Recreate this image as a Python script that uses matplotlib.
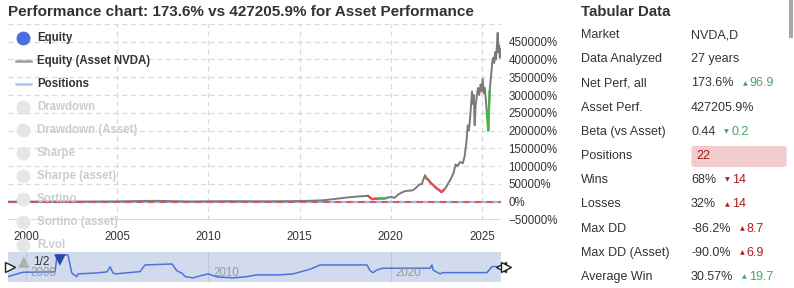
import numpy as np
import matplotlib.pyplot as plt
from matplotlib.patches import FancyBboxPatch, Rectangle

plt.rcParams['font.family'] = ['Liberation Sans', 'DejaVu Sans']

W, H = 794, 288

# asset equity (NVDA buy & hold), percent
asset_years = [1999.0, 2001.0, 2003.0, 2005.0, 2007.0, 2009.0, 2011.0, 2013.0, 2014.5, 2015.5,
               2016.3, 2016.8, 2017.3, 2017.8, 2018.3, 2018.75, 2018.9, 2019.0, 2019.15, 2019.3,
               2019.45, 2019.6, 2019.8, 2020.0, 2020.2, 2020.4, 2020.6, 2020.8, 2021.0, 2021.2,
               2021.4, 2021.55, 2021.7, 2021.88, 2021.95, 2022.05, 2022.2, 2022.35, 2022.5, 2022.65,
               2022.78, 2022.9, 2023.0, 2023.15, 2023.3, 2023.45, 2023.55, 2023.65, 2023.8, 2023.95,
               2024.05, 2024.15, 2024.22, 2024.28, 2024.33, 2024.4, 2024.45, 2024.5, 2024.55, 2024.6,
               2024.65, 2024.7, 2024.78, 2024.85, 2024.92, 2024.98, 2025.04, 2025.1, 2025.16, 2025.22,
               2025.27, 2025.31, 2025.34, 2025.38, 2025.42, 2025.47, 2025.52, 2025.57, 2025.62, 2025.67,
               2025.72, 2025.77, 2025.82, 2025.86, 2025.9, 2025.94, 2025.98, 2026.02, 2026.06]
asset_perf = [0, 400, 300, 800, 2500, 700, 1500, 1100, 1500, 2500,
              4000, 7000, 10000, 13000, 15000, 16500, 10000, 7000, 9000, 8000,
              9500, 8500, 11000, 14000, 11000, 20000, 26000, 30000, 31000, 32000,
              40000, 48000, 50000, 75000, 66000, 62000, 52000, 46000, 38000, 33000,
              27000, 33000, 38000, 52000, 65000, 82000, 105000, 100000, 112000, 108000,
              128000, 170000, 215000, 200000, 225000, 270000, 310000, 275000, 300000, 215000,
              270000, 290000, 320000, 300000, 330000, 310000, 345000, 305000, 320000, 280000,
              250000, 230000, 200000, 260000, 310000, 340000, 365000, 395000, 405000, 390000,
              420000, 400000, 440000, 475000, 420000, 440000, 405000, 430000, 427000]

# trades shown on the asset curve: (start, end, won)
trade_start = [2018.75, 2019.3, 2021.95, 2025.27]
trade_end = [2019.3, 2019.8, 2022.9, 2025.42]
trade_won = [False, True, False, True]

# strategy equity shown in the navigator, percent
nav_years = [1999.01, 1999.84, 2001.59, 2001.70, 2002.30, 2002.51, 2002.78, 2002.85, 2003.89, 2004.44,
             2004.61, 2004.77, 2004.88, 2006.25, 2006.52, 2007.51, 2008.0, 2008.28, 2008.55, 2008.72,
             2009.16, 2009.54, 2009.98, 2010.47, 2011.35, 2012.12, 2012.66, 2013.93, 2014.64, 2015.57,
             2016.12, 2018.70, 2018.86, 2019.02, 2019.24, 2019.57, 2022.15, 2022.26, 2022.31, 2022.70,
             2022.86, 2025.27, 2025.55, 2025.82, 2026.06]
nav_equity = [0, 76, 82, 377, 377, 59, 0, 47, 64, 82,
              168, 64, 47, 87, 203, 215, 220, 99, 59, 0,
              -23, 12, 47, -5, -23, 0, 30, 30, 47, 128,
              203, 203, 104, 69, 116, 146, 146, 203, 116, 47,
              69, 69, 174, 174, 174]

y_ticks = [-50000, 0, 50000, 100000, 150000, 200000, 250000, 300000, 350000, 400000, 450000]
x_years = [2000, 2005, 2010, 2015, 2020, 2025]
nav_years_lbl = [2000, 2010, 2020]

legend_on = ['Equity', 'Equity (Asset NVDA)', 'Positions']
legend_off = ['Drawdown', 'Drawdown (Asset)', 'Sharpe', 'Sharpe (asset)', 'Sortino',
              'Sortino (asset)', 'R.vol']

table_labels = ['Market', 'Data Analyzed', 'Net Perf, all', 'Asset Perf.', 'Beta (vs Asset)',
                'Positions', 'Wins', 'Losses', 'Max DD', 'Max DD (Asset)', 'Average Win']
table_values = ['NVDA,D', '27 years', '173.6%', '427205.9%', '0.44', '22', '68%', '32%',
                '-86.2%', '-90.0%', '30.57%']
# (arrow, delta, good) or None
table_deltas = [None, None, ('▲', '96.9', True), None, ('▼', '0.2', True), None,
                ('▼', '14', False), ('▲', '14', False), ('▲', '8.7', False), ('▲', '6.9', False),
                ('▲', '19.7', True)]

TXT = '#333333'
GREEN = '#3fa864'
RED = '#a81e1e'


def fx(px):
    return px / W


def fy(py):
    return 1 - py / H


fig = plt.figure(figsize=(W / 100, H / 100), dpi=100)

# ---- main chart
x0, x1 = 8, 501.5
y_top, y_bot = 23.9, 219.5
ax = fig.add_axes([fx(x0), fy(y_bot), fx(x1 - x0), (y_bot - y_top) / H])
ax.set_xlim(1999.01, 2026.07)
ax.set_ylim(-50000, 500000)
for s in ax.spines.values():
    s.set_visible(False)
ax.axhline(-50000, color='#ccd6eb', lw=1.2)
for v in y_ticks[1:] + [500000]:
    ax.axhline(v, color='#d9d9d9', lw=0.9, ls=(0, (4, 3)), zorder=0)
for yr in x_years[1:]:
    ax.axvline(yr, color='#d9d9d9', lw=0.9, ls=(0, (4, 3)), zorder=0)

ay = np.array(asset_years)
av = np.array(asset_perf)
ax.plot(ay, av, color='#7a7a7a', lw=1.4, zorder=3)
for s, e, won in zip(trade_start, trade_end, trade_won):
    m = (ay >= s) & (ay <= e)
    ax.plot(ay[m], av[m], color='#46b446' if won else '#e84b4b', lw=1.7, zorder=4)

ax.axhline(0, color='#99b8ec', lw=1.6, zorder=2)
ax.axhline(0, color='#e8474a', lw=1.2, ls=(0, (4, 3)), zorder=5)

ax.yaxis.tick_right()
ax.set_yticks(y_ticks)
ax.set_yticklabels(['−50000%' if v < 0 else f'{v}%' for v in y_ticks])
ax.set_xticks(x_years)
ax.set_xticklabels([str(y) for y in x_years])
ax.tick_params(length=0, labelsize=8.3, colors=TXT, pad=5)
ax.tick_params(axis='x', pad=8)
ax.patch.set_alpha(0)

# ---- navigator
nav = fig.add_axes([fx(x0), fy(282), fx(x1 - x0), 30 / H])
nav.set_xlim(1999.01, 2026.07)
nav.set_ylim(-95, 430)
nav.set_facecolor('#d1dbed')
for s in nav.spines.values():
    s.set_visible(False)
nav.set_xticks([])
nav.set_yticks([])
for yr in nav_years_lbl:
    nav.axvline(yr, color='#bcc6dc', lw=0.8)
    nav.text(yr + 0.25, 62, str(yr), color='#9a9a9a', fontsize=8.3, va='center')
nav.plot(nav_years, nav_equity, color='#4a74d8', lw=1.1)
nav.plot([2026.02], [174], marker='<', ms=7, mfc='white', mec='#222', clip_on=False)
nav.plot([2026.3], [174], marker='>', ms=7, mfc='white', mec='#222', clip_on=False)
nav.plot([1999.1], [174], marker='>', ms=7, mfc='white', mec='#222', clip_on=False)

# ---- title
fig.text(fx(8), fy(12), 'Performance chart: 173.6% vs 427205.9% for Asset Performance',
         fontsize=11, fontweight='bold', color=TXT, va='center')

# ---- legend overlay
for i, name in enumerate(legend_on + legend_off):
    yy = 37.7 + i * 23.0
    off = i >= len(legend_on)
    if i == 0:
        fig.lines.append(plt.Line2D([fx(23)], [fy(yy)], marker='o', ms=9, color='#4a6fe3',
                                    transform=fig.transFigure))
    elif i == 1:
        fig.lines.append(plt.Line2D([fx(16), fx(31)], [fy(yy)] * 2, lw=1.8, color='#9a9a9a',
                                    transform=fig.transFigure))
    elif i == 2:
        fig.lines.append(plt.Line2D([fx(16), fx(31)], [fy(yy)] * 2, lw=1.8, color='#a9c7f2',
                                    transform=fig.transFigure))
    else:
        fig.lines.append(plt.Line2D([fx(23)], [fy(yy)], marker='o', ms=9, color='#e6e6e6',
                                    transform=fig.transFigure))
    fig.text(fx(37), fy(yy), name, fontsize=8.3, fontweight='bold',
             color='#cccccc' if off else TXT, va='center')

# legend paging
fig.text(fx(18), fy(262), '▲', fontsize=11, color='#b0b0b0', va='center', family='DejaVu Sans')
fig.text(fx(33), fy(262), '1/2', fontsize=8.5, color=TXT, va='center')
fig.text(fx(54), fy(260), '▼', fontsize=11, color='#274b9f', va='center', family='DejaVu Sans')

# ---- table
fig.text(fx(581), fy(12.3), 'Tabular Data', fontsize=10.8, fontweight='bold', color=TXT,
         va='center')
fig.patches.append(FancyBboxPatch((fx(693), fy(166.5)), fx(92), 20 / H,
                                  boxstyle='round,pad=0.002,rounding_size=0.006',
                                  fc='#f2cccc', ec='none', transform=fig.transFigure))
fig.patches.append(Rectangle((fx(789), fy(38)), fx(4), 38 / H, fc='#a8a8a8', ec='none',
                             transform=fig.transFigure))

val_texts = []
for i, (lab, val) in enumerate(zip(table_labels, table_values)):
    yy = 35 + i * 24.2
    fig.text(fx(581), fy(yy), lab, fontsize=9, color=TXT, va='center')
    col = '#a01818' if lab == 'Positions' else TXT
    xv = 696 if lab == 'Positions' else 691
    val_texts.append(fig.text(fx(xv), fy(yy), val, fontsize=9, color=col, va='center'))

fig.canvas.draw()
r = fig.canvas.get_renderer()
for i, d in enumerate(table_deltas):
    if d is None:
        continue
    yy = 35 + i * 24.2
    arrow, num, good = d
    col = GREEN if good else RED
    xe = val_texts[i].get_window_extent(r).x1
    fig.text(xe / W + fx(9), fy(yy), arrow, fontsize=4.5, color=col, va='center',
             family='DejaVu Sans')
    fig.text(xe / W + fx(16), fy(yy), num, fontsize=9, color=col, va='center')

fig.savefig('out.png', dpi=100)
